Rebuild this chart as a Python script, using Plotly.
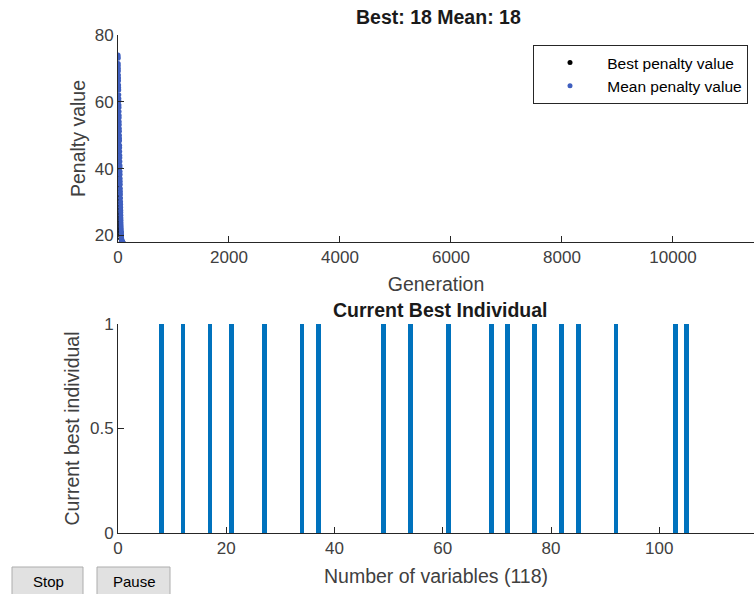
import plotly.graph_objects as go

# ---- data ----
best_penalty = [53, 52, 52, 51, 50, 49, 49, 48, 47, 46,
                45, 45, 44, 43, 42, 41, 41, 40, 39, 38,
                38, 37, 36, 35, 35, 34, 33, 32, 32, 31,
                30, 30, 29, 28, 28, 27, 27, 26, 25, 25,
                24, 24, 23, 23, 22, 22, 22, 21, 21, 21,
                20, 20, 20, 20, 19, 19, 19, 19, 19, 18,
                18, 18, 18, 18, 18, 18, 18, 18, 18, 18,
                18, 18, 18, 18, 18, 18, 18, 18, 18, 18,
                18, 18, 18, 18, 18]
mean_penalty = [74.0, 73.5, 73.0, 71.5, 70.8, 70.0, 69.2, 68.0, 67.1, 66.3,
                65.0, 64.2, 63.5, 62.1, 61.0, 60.2, 59.0, 58.3, 57.1, 56.0,
                55.2, 54.0, 53.1, 52.0, 51.2, 50.0, 49.1, 48.3, 47.0, 46.2,
                45.1, 44.0, 43.2, 42.1, 41.0, 40.3, 39.1, 38.2, 37.0, 36.1,
                35.2, 34.0, 33.1, 32.3, 31.2, 30.1, 29.3, 28.4, 27.5, 26.8,
                26.0, 25.2, 24.5, 23.8, 23.1, 22.5, 21.9, 21.4, 20.9, 20.5,
                20.1, 19.8, 19.5, 19.2, 19.0, 18.8, 18.7, 18.5, 18.4, 18.3,
                18.2, 18.2, 18.1, 18.1, 18.1, 18.0, 18.0, 18.0, 18.0, 18.0,
                18.0, 18.0, 18.0, 18.0, 18.0]
generations = list(range(1, len(mean_penalty) + 1))

selected_vars = [8, 12, 17, 21, 27, 34, 37, 49, 54, 61, 69, 72, 77, 82, 85, 92, 103, 105]
selected_vals = [1] * len(selected_vars)

gen_ticks = [0, 2000, 4000, 6000, 8000, 10000]
pen_ticks = [20, 40, 60, 80]
var_ticks = [0, 20, 40, 60, 80, 100]
ind_ticks = [0, 0.5, 1]

W, H = 754, 594
FONT = "Liberation Sans, Arial, sans-serif"
AX = "#262626"
TXT = "#404040"
NB = "\u00a0"

fig = go.Figure()
fig.add_trace(go.Scatter(x=generations, y=best_penalty, mode="markers",
                         name=NB * 4 + "Best penalty value",
                         marker=dict(color="black", size=5),
                         xaxis="x", yaxis="y"))
fig.add_trace(go.Scatter(x=generations, y=mean_penalty, mode="markers",
                         name=NB * 4 + "Mean penalty value",
                         marker=dict(color="#3F5FBF", size=5),
                         xaxis="x", yaxis="y"))
fig.add_trace(go.Bar(x=selected_vars, y=selected_vals, width=0.9,
                     marker=dict(color="#0072BD", line=dict(width=0)),
                     showlegend=False, xaxis="x2", yaxis="y2"))

def px_x(p):
    return p / W

def px_y(p):
    return 1 - p / H

axis_common = dict(showline=True, linecolor=AX, linewidth=1, ticks="inside",
                   ticklen=6, tickcolor=AX, showgrid=False, zeroline=False,
                   tickfont=dict(family=FONT, size=17, color=TXT),
                   mirror=False, automargin=False)
TITLE_FONT = dict(family=FONT, size=19.5, color=TXT)

fig.update_layout(
    width=W, height=H,
    margin=dict(l=0, r=0, t=0, b=0, autoexpand=False),
    paper_bgcolor="white", plot_bgcolor="white",
    font=dict(family=FONT, color=TXT),
    xaxis=dict(domain=[px_x(118), 1.0], range=[0, 11460], tickvals=gen_ticks,
               ticktext=[str(v) for v in gen_ticks], anchor="y",
               title=dict(text="Generation", font=TITLE_FONT, standoff=10),
               **axis_common),
    yaxis=dict(domain=[px_y(242), px_y(35)], range=[18, 80], tickvals=pen_ticks,
               anchor="x",
               title=dict(text="Penalty value", font=TITLE_FONT, standoff=3),
               **axis_common),
    xaxis2=dict(domain=[px_x(118), 1.0], range=[0, 117.5], tickvals=var_ticks,
                anchor="y2",
                title=dict(text="Number of variables (118)", font=TITLE_FONT, standoff=11),
                **axis_common),
    yaxis2=dict(domain=[px_y(533), px_y(324)], range=[0, 1], tickvals=ind_ticks,
                ticktext=["0", "0.5", "1"], anchor="x2",
                title=dict(text="Current best individual", font=TITLE_FONT, standoff=5),
                **axis_common),
    legend=dict(x=px_x(533), y=px_y(45), xanchor="left", yanchor="top",
                bgcolor="white", bordercolor=AX, borderwidth=1,
                font=dict(family=FONT, size=15.5, color="black"),
                indentation=16, tracegroupgap=0),
    bargap=0,
)

annotations = [
    dict(text="<b>Best: 18 Mean: 18</b>", x=px_x(438), y=px_y(17), xref="paper", yref="paper",
         showarrow=False, font=dict(family=FONT, size=19.5, color="#1a1a1a"),
         xanchor="center", yanchor="middle"),
    dict(text="<b>Current Best Individual</b>", x=px_x(440), y=px_y(310), xref="paper", yref="paper",
         showarrow=False, font=dict(family=FONT, size=19.5, color="#1a1a1a"),
         xanchor="center", yanchor="middle"),
    dict(text="Stop", x=px_x(48), y=px_y(581), xref="paper", yref="paper",
         showarrow=False, font=dict(family=FONT, size=15, color="black"),
         xanchor="center", yanchor="middle"),
    dict(text="Pause", x=px_x(134), y=px_y(581), xref="paper", yref="paper",
         showarrow=False, font=dict(family=FONT, size=15, color="black"),
         xanchor="center", yanchor="middle"),
]
fig.update_layout(annotations=annotations)

shapes = [
    dict(type="rect", xref="paper", yref="paper", x0=px_x(12), x1=px_x(83),
         y0=px_y(600), y1=px_y(567), fillcolor="#e1e1e1", line=dict(color="#adadad", width=1),
         layer="below"),
    dict(type="rect", xref="paper", yref="paper", x0=px_x(97), x1=px_x(170),
         y0=px_y(600), y1=px_y(567), fillcolor="#e1e1e1", line=dict(color="#adadad", width=1),
         layer="below"),
]
fig.update_layout(shapes=shapes)

fig.write_html("out.html")
